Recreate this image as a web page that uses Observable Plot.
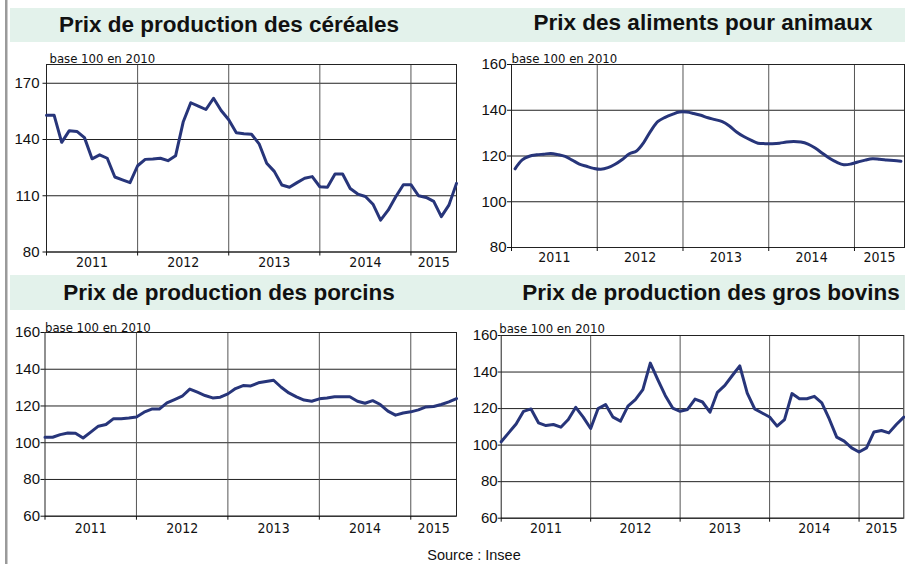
<!DOCTYPE html>
<html>
<head>
<meta charset="utf-8">
<script src="https://cdn.jsdelivr.net/npm/d3@7"></script>
<script src="https://cdn.jsdelivr.net/npm/@observablehq/plot@0.6"></script>
<style>
  body { margin: 0; background: #fff; }
  #root { position: relative; width: 905px; height: 564px; overflow: hidden; }
  #root > svg { position: absolute; }
</style>
</head>
<body>
<div id="root"></div>
<script>
// ---- data: monthly indices, Jan 2011 .. Jul 2015 (55 months), base 100 en 2010
const years = ["2011", "2012", "2013", "2014", "2015"];
const titles = [
  "Prix de production des céréales",
  "Prix des aliments pour animaux",
  "Prix de production des porcins",
  "Prix de production des gros bovins"
];
const unit = "base 100 en 2010";
const source = "Source : Insee";

const cereales = [153, 153, 138.5, 144.7, 144.3, 141, 129.7, 131.8, 130, 120, 118.5, 117,
  126, 129.4, 129.6, 130, 128.7, 131.3, 149.3, 159.6, 157.8, 156, 162, 155.5,
  150.5, 143.6, 143.1, 142.8, 137.7, 127.3, 123, 115.7, 114.5, 117, 119.3, 120.2,
  114.8, 114.5, 121.6, 121.6, 113.9, 110.9, 109.6, 105.5, 97, 102.3, 109.5, 115.9,
  115.9, 110, 109.1, 107, 98.9, 105, 116.6];
const aliments = [114.4, 118.3, 119.9, 120.5, 120.8, 121.1, 120.6, 119.8, 118.2, 116.5, 115.5, 114.6,
  114.2, 114.9, 116.4, 118.5, 121, 122.2, 125.9, 131, 135.1, 136.9, 138.2, 139.2,
  139.2, 138.6, 137.8, 136.7, 135.9, 135, 133.1, 130.5, 128.5, 126.9, 125.6, 125.4,
  125.4, 125.6, 126.1, 126.3, 126.1, 125.2, 123.5, 121.2, 119, 117.3, 116.2, 116.5,
  117.4, 118.2, 118.8, 118.6, 118.3, 118, 117.7];
const porcins = [103, 103, 104.4, 105.3, 105.2, 102.6, 105.8, 109, 109.9, 113.1, 113.1, 113.5,
  114, 116.6, 118.3, 118.3, 121.7, 123.5, 125.3, 129.2, 127.5, 125.7, 124.4, 124.8,
  126.6, 129.5, 131.1, 130.9, 132.6, 133.3, 134, 130.2, 127.1, 125, 123.2, 122.6,
  123.9, 124.4, 125, 125, 125, 122.6, 121.5, 122.9, 120.8, 117.2, 115, 116.2,
  116.8, 117.9, 119.5, 119.7, 120.8, 122.2, 124];
const bovins = [101.8, 106.7, 111.6, 118.5, 119.8, 112.2, 110.7, 111.3, 109.8, 114, 120.7, 115.3,
  109.1, 120, 122.2, 115.3, 113.1, 121.3, 124.9, 130.4, 144.9, 135.8, 127.2, 120.3,
  118.5, 119.5, 125.2, 123.6, 118, 128.9, 132.7, 138.1, 143.4, 128.5, 119.8, 117.6,
  115.4, 110.4, 114, 128.2, 125.4, 125.4, 126.7, 123.1, 114.3, 104.4, 102.2, 98.5,
  96.2, 98.5, 107.2, 108, 106.7, 111.3, 115.3];

const ticksCereales = [80, 110, 140, 170];
const ticks160 = [60, 80, 100, 120, 140, 160];
const ticksAliments = [80, 100, 120, 140, 160];

const SANS = '"Liberation Sans", Arial, Helvetica, sans-serif';
const NARROW = '"DejaVu Sans Condensed", "Liberation Sans Narrow", "Arial Narrow", sans-serif';
const LINE = "#27357a";
const N = cereales.length;

const root = d3.select("#root");

// ---- background: bands, left rule, titles, source
const bg = root.append("svg").attr("width", 905).attr("height", 564).style("left", "0px").style("top", "0px");
bg.append("rect").attr("x", 10).attr("y", 8).attr("width", 895).attr("height", 34).attr("fill", "#e3f2eb");
bg.append("rect").attr("x", 10).attr("y", 275).attr("width", 895).attr("height", 35).attr("fill", "#e3f2eb");
bg.append("rect").attr("x", 5).attr("y", 0).attr("width", 2.5).attr("height", 564).attr("fill", "#9a9a9a");
const titlePos = [[229, 32], [703, 29.5], [229, 300], [711, 300]];
titles.forEach((t, k) => {
  bg.append("text").attr("x", titlePos[k][0]).attr("y", titlePos[k][1])
    .attr("text-anchor", "middle").attr("font-family", SANS).attr("font-weight", "bold")
    .attr("font-size", 22.5).attr("fill", "#111").text(t);
});
bg.append("text").attr("x", 474).attr("y", 560).attr("text-anchor", "middle")
  .attr("font-family", SANS).attr("font-size", 14.5).attr("fill", "#111").text(source);

// ---- panels
function panel(cfg) {
  const {values, yDomain, yTicks, centered, curve, left, top, width, height,
         ml, mr, mt, mb, yTickSize, yTickPad, xPad, unitDx, unitDy} = cfg;
  const x0 = centered ? -0.5 : 0;
  const x1 = centered ? N - 0.5 : N - 1;
  const bounds = [12, 24, 36, 48].map(b => centered ? b - 0.5 : b);
  const edges = [x0, ...bounds, x1];
  const mids = years.map((_, k) => (edges[k] + edges[k + 1]) / 2);
  const data = values.map((v, i) => ({i, v}));
  const svg = Plot.plot({
    width, height,
    marginLeft: ml, marginRight: mr, marginTop: mt, marginBottom: mb,
    style: {background: "transparent", fontFamily: SANS, color: "#111", overflow: "visible"},
    x: {domain: [x0, x1], label: null},
    y: {domain: yDomain, label: null},
    marks: [
      Plot.ruleY(yTicks, {stroke: "#222", strokeWidth: 1}),
      Plot.ruleX(bounds, {stroke: "#555", strokeWidth: 1}),
      Plot.frame({stroke: "#222", strokeWidth: 1}),
      Plot.line(data, {x: "i", y: "v", stroke: LINE, strokeWidth: 3, curve, strokeLinejoin: "round"}),
      Plot.axisY({ticks: yTicks, tickSize: yTickSize, tickPadding: yTickPad, fontSize: 15,
                  label: null, tickFormat: d => String(d)}),
      Plot.axisX({ticks: [x0, ...bounds], tickSize: 4, tickFormat: () => "", label: null}),
      Plot.axisX({ticks: mids, tickSize: 0, tickPadding: xPad, label: null, fontSize: 14,
                  fontFamily: NARROW, tickFormat: d => years[mids.indexOf(d)]}),
      Plot.text([unit], {frameAnchor: "top-left", textAnchor: "start", dx: unitDx, dy: unitDy,
                  fontSize: 13, fontFamily: NARROW, fill: "#111", lineAnchor: "bottom"})
    ]
  });
  svg.style.position = "absolute";
  svg.style.left = left + "px";
  svg.style.top = top + "px";
  root.node().appendChild(svg);
}

panel({values: cereales, yDomain: [80, 180], yTicks: ticksCereales, centered: false, curve: "linear",
  left: 0, top: 44, width: 460, height: 230, ml: 46, mr: 4, mt: 20, mb: 22.5,
  yTickSize: 3.5, yTickPad: 3.5, xPad: 5, unitDx: 3, unitDy: -2});
panel({values: aliments, yDomain: [80, 160], yTicks: ticksAliments, centered: true, curve: "catmull-rom",
  left: 460, top: 44, width: 445, height: 230, ml: 51, mr: 1, mt: 20, mb: 27,
  yTickSize: 4, yTickPad: 1, xPad: 4.5, unitDx: 0, unitDy: -2});
panel({values: porcins, yDomain: [60, 160], yTicks: ticks160, centered: false, curve: "linear",
  left: 0, top: 312, width: 460, height: 230, ml: 44.5, mr: 4, mt: 20, mb: 26.3,
  yTickSize: 4, yTickPad: 1, xPad: 7, unitDx: 0, unitDy: -1});
panel({values: bovins, yDomain: [60, 160], yTicks: ticks160, centered: false, curve: "linear",
  left: 460, top: 312, width: 445, height: 230, ml: 40.7, mr: 1.7, mt: 23, mb: 24.3,
  yTickSize: 3, yTickPad: 0.5, xPad: 5, unitDx: -2, unitDy: -3});
</script>
</body>
</html>
